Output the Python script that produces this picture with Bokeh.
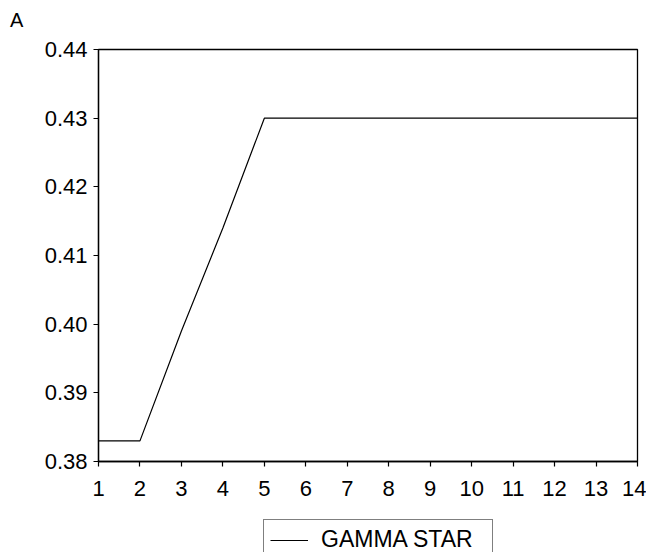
from bokeh.plotting import figure
from bokeh.models import Legend, LegendItem, FixedTicker, Range1d
from bokeh.layouts import column
from bokeh.embed import file_html
from bokeh.resources import INLINE

periods = [1, 2, 3, 4, 5, 6, 7, 8, 9, 10, 11, 12, 13, 14]
gamma_star = [0.383, 0.383, 0.399, 0.414, 0.430, 0.430, 0.430, 0.430, 0.430, 0.430, 0.430, 0.430, 0.430, 0.430]
y_ticks = [0.38, 0.39, 0.40, 0.41, 0.42, 0.43, 0.44]
series_name = "GAMMA STAR"
panel_label = "A"

FONT = "Liberation Sans"
W = 646


def strip(height):
    s = figure(output_backend="svg", toolbar_location=None, frame_width=W, frame_height=height,
               min_border=0, x_axis_type=None, y_axis_type=None,
               x_range=Range1d(100, 101), y_range=Range1d(100, 101))
    s.outline_line_color = None
    s.grid.visible = False
    return s


# header strip with the panel letter
p0 = strip(30)
r0 = p0.line(periods, gamma_star, line_alpha=0)
p0.add_layout(Legend(items=[LegendItem(label=panel_label, renderers=[r0])],
                     location=(10, -2), margin=0, padding=0, spacing=0,
                     glyph_width=0, glyph_height=20, label_height=20, label_standoff=0,
                     label_text_font=FONT, label_text_font_size="20px", label_text_color="black",
                     border_line_color=None, background_fill_alpha=0), "center")

# main chart
p = figure(output_backend="svg", toolbar_location=None,
           frame_width=539, frame_height=412,
           min_border_left=98, min_border_right=9, min_border_top=19, min_border_bottom=55,
           x_range=Range1d(1, 14), y_range=Range1d(0.38, 0.44))

r = p.line(periods, gamma_star, line_color="black", line_width=1.2)

p.xgrid.visible = False
p.ygrid.visible = False
p.outline_line_color = "black"
p.outline_line_width = 1.3
p.outline_line_alpha = 1.0

p.xaxis.ticker = FixedTicker(ticks=periods)
p.yaxis.ticker = FixedTicker(ticks=y_ticks)
p.yaxis.major_label_overrides = {t: f"{t:.2f}" for t in y_ticks}
for ax in (p.xaxis[0], p.yaxis[0]):
    ax.axis_line_color = "black"
    ax.axis_line_width = 1.3
    ax.major_tick_line_color = "black"
    ax.major_tick_line_width = 1.2
    ax.major_tick_in = 0
    ax.major_tick_out = 5
    ax.minor_tick_line_color = None
    ax.major_label_text_font = FONT
    ax.major_label_text_font_size = "22px"
    ax.major_label_text_color = "black"
p.xaxis.major_label_standoff = 14
p.yaxis.major_label_standoff = 6

# legend strip below (its line lies outside the strip's ranges; only the legend sample shows)
p2 = strip(36)
r2 = p2.line(periods, gamma_star, line_color="black", line_width=1.2)
p2.add_layout(Legend(items=[LegendItem(label=series_name, renderers=[r2])],
                     location=(263, -8), orientation="horizontal", margin=0,
                     label_text_font=FONT, label_text_font_size="23px", label_text_color="black",
                     border_line_color="black", border_line_width=1.3,
                     glyph_width=38, glyph_height=20, padding=6, spacing=0,
                     label_standoff=13, label_width=165, background_fill_alpha=1.0), "center")

layout = column(p0, p, p2, spacing=0)

open("out.html", "w").write(file_html(layout, INLINE))
